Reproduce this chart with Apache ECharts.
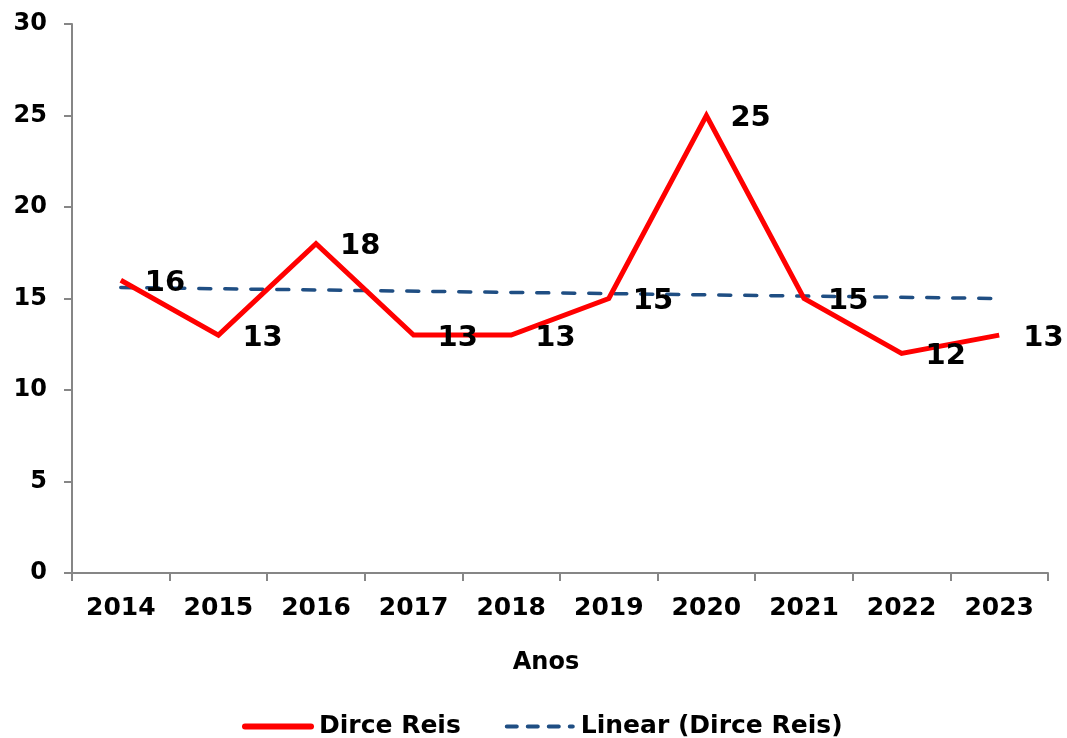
<!DOCTYPE html>
<html>
<head>
<meta charset="utf-8">
<script src="https://cdn.jsdelivr.net/npm/echarts@6/dist/echarts.min.js"></script>
<style>html,body{margin:0;padding:0;background:#fff}#c{width:1067px;height:738px}</style>
</head>
<body>
<div id="c"></div>
<script>
var years = ['2014','2015','2016','2017','2018','2019','2020','2021','2022','2023'];
var dirceReis = [16, 13, 18, 13, 13, 15, 25, 15, 12, 13];
var trendStart = 15.6;
var trendEnd = 15.0;
var seriesNames = ['Dirce Reis', 'Linear (Dirce Reis)'];

var trend = years.map(function (y, i) {
  return i === 0 ? trendStart : (i === years.length - 1 ? trendEnd : null);
});

var RED = '#ff0000';
var BLUE = '#1f4e83';
var FONT = '"DejaVu Sans", Verdana, sans-serif';
var chart = echarts.init(document.getElementById('c'));
chart.setOption({
  animation: false,
  backgroundColor: '#fff',
  grid: { left: 72, right: 19, top: 24, bottom: 165, containLabel: false },
  legend: {
    top: 709, left: 237,
    itemWidth: 66, itemHeight: 14, itemGap: 44,
    itemStyle: { opacity: 0 },
    textStyle: { fontFamily: FONT, fontWeight: 'bold', fontSize: 25, color: '#000', padding: [0,0,0,3] },
    data: [
      { name: seriesNames[0], lineStyle: { color: RED, width: 6, cap: 'round' } },
      { name: seriesNames[1], lineStyle: { color: BLUE, width: 4, type: [10, 11], cap: 'round' } }
    ]
  },
  xAxis: {
    type: 'category',
    data: years,
    boundaryGap: true,
    name: 'Anos',
    nameLocation: 'middle',
    nameGap: 78,
    nameTextStyle: { fontFamily: FONT, fontWeight: 'bold', fontSize: 24, color: '#000', padding: [0, 28, 0, 0] },
    axisLine: { lineStyle: { color: '#868686', width: 2 } },
    axisTick: { show: true, length: 8, alignWithLabel: false, lineStyle: { color: '#868686', width: 2 } },
    axisLabel: { fontFamily: FONT, fontWeight: 'bold', fontSize: 25, color: '#000', margin: 23, interval: 0 },
    splitLine: { show: false }
  },
  yAxis: {
    type: 'value',
    min: 0, max: 30, interval: 5,
    axisLine: { show: true, lineStyle: { color: '#868686', width: 2 } },
    axisTick: { show: true, length: 8, lineStyle: { color: '#868686', width: 2 } },
    axisLabel: { fontFamily: FONT, fontWeight: 'bold', fontSize: 24, color: '#000', margin: 25 },
    splitLine: { show: false }
  },
  series: [
    {
      name: seriesNames[0],
      type: 'line',
      data: dirceReis,
      symbol: 'circle',
      symbolSize: 0,
      showSymbol: true,
      lineStyle: { color: RED, width: 5, join: 'miter' },
      itemStyle: { color: RED },
      label: {
        show: true, position: 'right', distance: 24, offset: [0, 3],
        fontFamily: FONT, fontWeight: 'bold', fontSize: 29, color: '#000'
      },
      z: 3
    },
    {
      name: seriesNames[1],
      type: 'line',
      data: trend,
      connectNulls: true,
      symbol: 'none',
      lineStyle: { color: BLUE, width: 3.5, type: [12, 14], cap: 'round' },
      itemStyle: { color: BLUE },
      z: 2
    }
  ]
});
</script>
</body>
</html>
